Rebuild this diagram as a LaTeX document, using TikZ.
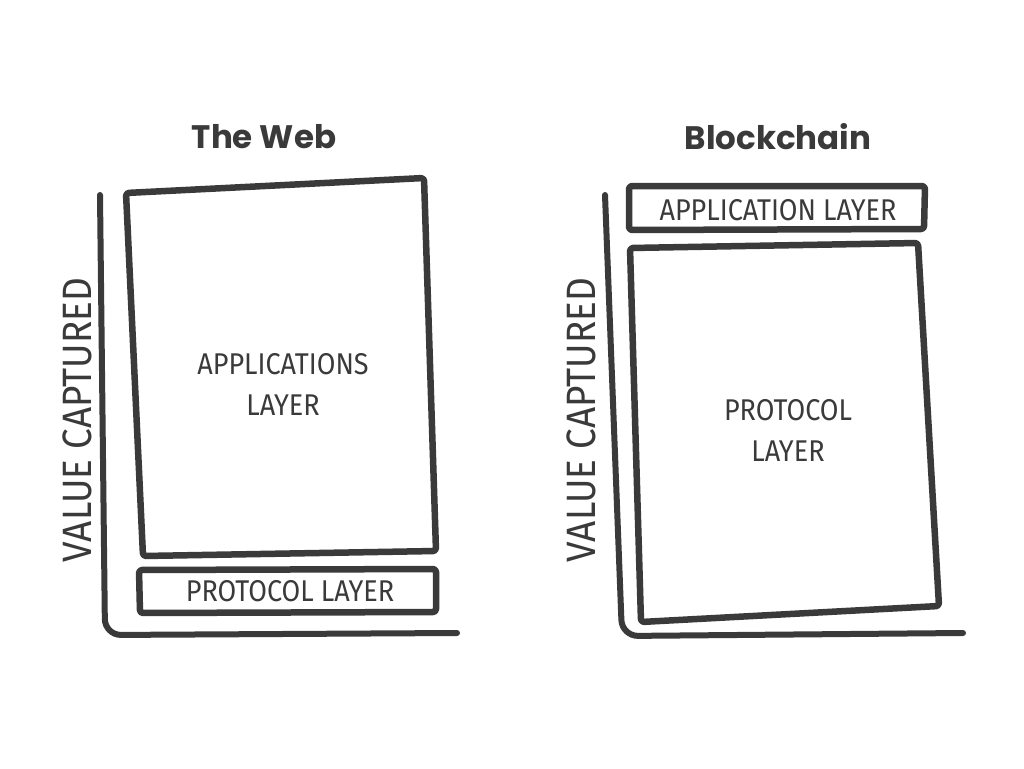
\documentclass[tikz,border=0pt]{standalone}
\usepackage{fontspec}
\newfontfamily\titlefont{Poppins}
\newfontfamily\handfont{Fira Sans}[FakeStretch=0.9]
\definecolor{ink}{HTML}{3A3A3A}

\tikzset{
	sketch/.style={draw=ink,line width=6.5pt,line join=round,line cap=round,rounded corners=3pt},
	axisline/.style={draw=ink,line width=6pt,line cap=round,rounded corners=16pt},
	heading/.style={text=ink,font=\titlefont\bfseries\fontsize{32.5}{36}\selectfont},
	hand/.style={text=ink,font=\handfont\fontsize{30}{41}\selectfont,align=center,inner sep=0pt},
	ylabel/.style={text=ink,font=\handfont\fontsize{41}{44}\selectfont,rotate=90,inner sep=0pt}
}

\begin{document}
\begin{tikzpicture}[x=1pt,y=-1pt]
	\useasboundingbox[fill=white] (0,0) rectangle (1024,768);

	% left panel: the web
	\node[heading] (webtitle) at (264,137) {The Web};
	\draw[axisline] (100,195) -- (105,635) -- (457,633);
	\draw[sketch] (126,193) -- (424,178) -- (436,551) -- (143,556) -- cycle; % applications
	\draw[sketch] (139,570) -- (436,569) -- (436,612) -- (140,613) -- cycle; % protocol
	\node[hand] (webapps) at (283,384) {APPLICATIONS\\LAYER};
	\node[hand] (webproto) at (290,591) {PROTOCOL LAYER};
	\node[ylabel] (webvalue) at (77,420) {VALUE CAPTURED};

	% right panel: blockchain
	\node[heading] (chaintitle) at (778,137) {Blockchain};
	\draw[axisline] (605,195) -- (622,636) -- (963,633);
	\draw[sketch] (629,186) -- (925,186) -- (924,229) -- (629,230) -- cycle; % application
	\draw[sketch] (630,248) -- (918,243) -- (939,606) -- (641,622) -- cycle; % protocol
	\node[hand] (chainapp) at (778,210) {APPLICATION LAYER};
	\node[hand] (chainproto) at (788,430) {PROTOCOL\\LAYER};
	\node[ylabel] (chainvalue) at (581,420) {VALUE CAPTURED};

\end{tikzpicture}
\end{document}
